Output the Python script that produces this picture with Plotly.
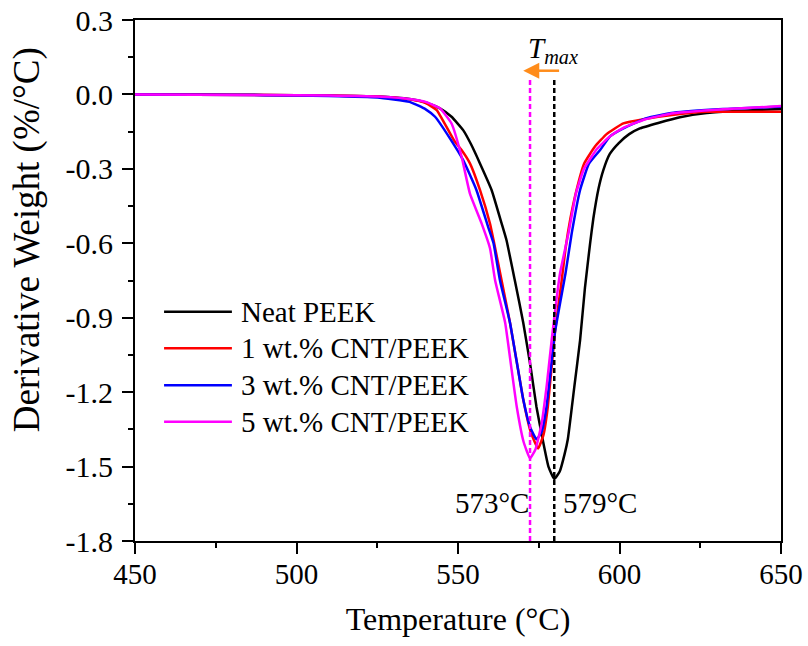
import plotly.graph_objects as go

# ---------------- data ----------------
t_neat = [450, 470, 490, 510, 525, 535, 540, 544.4, 548, 551.6, 554, 556.8, 560.4, 563.5, 565, 567.6,
          570.2, 572.5, 574.3, 576.2, 578, 579.8, 581.5, 583, 584, 586, 587.8, 589.3, 590.9, 591.9,
          593.5, 595, 597, 599.7, 603, 606.3, 612, 618.7, 627, 635, 642.5, 650]
d_neat = [0.0, 0.0, -0.002, -0.004, -0.008, -0.018, -0.032, -0.056, -0.09, -0.144, -0.2, -0.278, -0.385,
          -0.52, -0.587, -0.75, -0.92, -1.1, -1.26, -1.39, -1.5, -1.55, -1.52, -1.45, -1.39, -1.18, -0.99,
          -0.78, -0.6, -0.5, -0.38, -0.305, -0.24, -0.197, -0.16, -0.137, -0.115, -0.092, -0.075, -0.068,
          -0.063, -0.059]

t_cnt1 = [450, 490, 510, 525, 535, 540, 543.4, 547, 549, 551.1, 553.7, 556.8, 559.9, 561, 563.5, 566.1,
          570.2, 572.5, 574.8, 576.5, 577.8, 580, 582.1, 583.3, 584.8, 586.7, 589, 592.4, 596, 601.2,
          607.4, 618.7, 627, 650]
d_cnt1 = [0.0, -0.002, -0.004, -0.008, -0.02, -0.035, -0.063, -0.144, -0.19, -0.224, -0.278, -0.385, -0.52,
          -0.587, -0.75, -0.92, -1.23, -1.36, -1.427, -1.37, -1.26, -0.96, -0.75, -0.62, -0.5, -0.385,
          -0.28, -0.21, -0.16, -0.117, -0.1, -0.079, -0.07, -0.07]

t_cnt3 = [450, 490, 510, 525, 535, 540, 542.9, 547.5, 551.6, 555.7, 559.3, 561, 563, 566.1, 570.2, 572.3,
          574.3, 575.9, 577.4, 580, 583.3, 585.2, 587.8, 590.5, 594, 597, 601.2, 608.4, 616.7, 632, 650]
d_cnt3 = [0.0, -0.003, -0.006, -0.012, -0.03, -0.06, -0.09, -0.177, -0.265, -0.385, -0.533, -0.6, -0.75,
          -0.92, -1.23, -1.34, -1.39, -1.36, -1.26, -0.96, -0.72, -0.56, -0.385, -0.28, -0.224, -0.17,
          -0.137, -0.096, -0.074, -0.059, -0.05]

t_cnt5 = [450, 490, 510, 525, 535, 540, 544.4, 548, 551.1, 553.7, 557.3, 559.9, 561.5, 564.6, 566.5, 568.2,
          570.3, 572.3, 574, 575.9, 577.5, 579, 581.6, 584.2, 586.5, 589, 593, 597, 601.2, 608, 616.7, 632, 650]
d_cnt5 = [0.0, -0.002, -0.004, -0.008, -0.018, -0.03, -0.056, -0.117, -0.25, -0.4, -0.52, -0.62, -0.75,
          -0.92, -1.1, -1.26, -1.4, -1.467, -1.43, -1.326, -1.17, -0.99, -0.72, -0.56, -0.4, -0.3, -0.22,
          -0.17, -0.135, -0.1, -0.076, -0.06, -0.047]

series_names = ["Neat PEEK", "1 wt.% CNT/PEEK", "3 wt.% CNT/PEEK", "5 wt.% CNT/PEEK"]
series_colors = ["#000000", "#FF0000", "#0000FF", "#FF00FF"]

tmax_values = [572.3, 579.8]          # peak temperatures (dashed markers)
tmax_colors = ["#FF00FF", "#000000"]
tmax_labels = ["573°C", "579°C"]
dash_top = 0.058

arrow_x = [581.3, 572.0]              # shift of Tmax (tail -> head)
arrow_tip = 570.2
arrow_y = 0.0956

x_tick_vals = [450, 500, 550, 600, 650]
x_tick_text = ["450", "500", "550", "600", "650"]
y_tick_vals = [0.3, 0.0, -0.3, -0.6, -0.9, -1.2, -1.5, -1.8]
y_tick_text = ["0.3", "0.0", "-0.3", "-0.6", "-0.9", "-1.2", "-1.5", "-1.8"]
x_minor_vals = [475, 525, 575, 625]
y_minor_vals = [0.15, -0.15, -0.45, -0.75, -1.05, -1.35, -1.65]

FONT = "Liberation Serif, Times New Roman, serif"
ORANGE = "#FF8C1A"

fig = go.Figure()
for t, d, n, c in zip([t_neat, t_cnt1, t_cnt3, t_cnt5], [d_neat, d_cnt1, d_cnt3, d_cnt5],
                      series_names, series_colors):
    fig.add_trace(go.Scatter(x=t, y=d, mode="lines", name=n, showlegend=False,
                             line=dict(color=c, width=2.5, shape="spline", smoothing=0.4)))

for tv, c in zip(tmax_values, tmax_colors):
    fig.add_trace(go.Scatter(x=[tv, tv], y=[-1.8, dash_top], mode="lines", showlegend=False,
                             line=dict(color=c, width=2.5, dash="5px,3px"), hoverinfo="skip"))

# orange arrow (shaft + head)
fig.add_trace(go.Scatter(x=arrow_x, y=[arrow_y, arrow_y], mode="lines", showlegend=False,
                         line=dict(color=ORANGE, width=2.5), hoverinfo="skip"))
fig.add_trace(go.Scatter(x=[arrow_tip], y=[arrow_y], mode="markers", showlegend=False,
                         marker=dict(symbol="arrow-left", size=16, color=ORANGE,
                                     line=dict(width=0)), hoverinfo="skip"))

# manual legend (paper coordinates)
leg_x0, leg_x1, leg_text_x = 0.045, 0.150, 0.161
leg_y = [0.440, 0.370, 0.299, 0.229]
for n, c, yy in zip(series_names, series_colors, leg_y):
    fig.add_shape(type="line", xref="paper", yref="paper", x0=leg_x0, x1=leg_x1, y0=yy, y1=yy,
                  line=dict(color=c, width=2.5))
    fig.add_annotation(xref="paper", yref="paper", x=leg_text_x, y=yy, text=n, showarrow=False,
                       xanchor="left", yanchor="middle", font=dict(family=FONT, size=29, color="black"))

# peak labels
fig.add_annotation(x=572.6, y=-1.648, text=tmax_labels[0], showarrow=False, xanchor="right",
                   yanchor="middle", font=dict(family=FONT, size=29, color="black"))
fig.add_annotation(x=582.0, y=-1.648, text=tmax_labels[1], showarrow=False, xanchor="left",
                   yanchor="middle", font=dict(family=FONT, size=29, color="black"))
fig.add_annotation(x=571.0, y=0.178, text="<i>T</i><sub><i>max</i></sub>", showarrow=False,
                   xanchor="left", yanchor="middle", font=dict(family=FONT, size=29, color="black"))

# y-axis title placed as rotated text
fig.add_annotation(xref="paper", yref="paper", x=-0.168, y=0.578, text="Derivative Weight (%/°C)",
                   textangle=-90, showarrow=False, xanchor="center", yanchor="middle",
                   font=dict(family=FONT, size=37, color="black"))

axis_common = dict(showline=True, linecolor="black", linewidth=2, mirror=True, ticks="outside",
                   ticklen=11, tickwidth=2, tickcolor="black", showgrid=False, zeroline=False,
                   automargin=False)

fig.update_xaxes(range=[450, 650], tickmode="array", tickvals=x_tick_vals, ticktext=x_tick_text,
                 tickfont=dict(family=FONT, size=29, color="black"), ticklabelstandoff=-5,
                 title=dict(text="Temperature (°C)", font=dict(family=FONT, size=32, color="black"),
                            standoff=19),
                 minor=dict(tickmode="array", tickvals=x_minor_vals, ticks="outside", ticklen=5,
                            tickwidth=2, tickcolor="black", showgrid=False),
                 **axis_common)
fig.update_yaxes(range=[-1.8, 0.3], tickmode="array", tickvals=y_tick_vals, ticktext=y_tick_text,
                 tickfont=dict(family=FONT, size=30, color="black"), ticklabelstandoff=3,
                 minor=dict(tickmode="array", tickvals=y_minor_vals, ticks="outside", ticklen=5,
                            tickwidth=2, tickcolor="black", showgrid=False),
                 **axis_common)

fig.update_layout(width=808, height=646, margin=dict(l=135, r=27, t=20, b=105),
                  paper_bgcolor="white", plot_bgcolor="white",
                  font=dict(family=FONT, color="black"), showlegend=False)

fig.write_html("out.html")
